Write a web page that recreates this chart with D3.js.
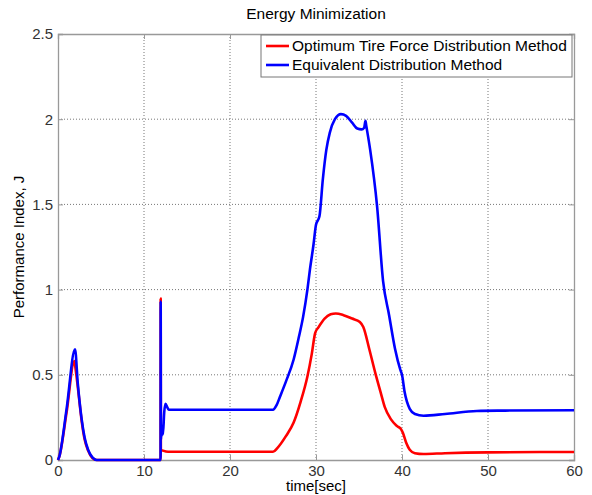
<!DOCTYPE html>
<html>
<head>
<meta charset="utf-8">
<script src="https://cdn.jsdelivr.net/npm/d3@7"></script>
<style>
  body { margin: 0; background: #fff; }
  svg { font-family: "Liberation Sans", Arial, sans-serif; }
  .tick text { fill: #333; font-size: 15px; }
  .grid line { stroke: #777; stroke-dasharray: 1,2; }
  .line { fill: none; stroke-width: 2.6; stroke-linejoin: round; }
</style>
</head>
<body>
<svg width="592" height="495"></svg>
<script>
// data
var redT = [0, 0.15, 1.0, 1.9, 2.0, 2.3, 2.75, 3.1, 3.5, 4.0, 4.5, 11.93, 11.94, 11.96, 12.2, 12.8, 25.0, 25.5, 26.5, 27.4, 28.2, 29.0, 29.5, 29.9, 30.3, 31.0, 31.7, 32.3, 33.2, 34.2, 35.1, 35.5, 36.2, 36.9, 37.5, 38.0, 38.7, 39.4, 39.9, 40.1, 40.5, 40.9, 41.5, 42.5, 45, 50, 60];
var redV = [0, 0.02, 0.28, 0.58, 0.55, 0.43, 0.23, 0.12, 0.055, 0.012, 0, 0, 0.947, 0.06, 0.055, 0.048, 0.048, 0.07, 0.14, 0.22, 0.34, 0.49, 0.62, 0.745, 0.78, 0.83, 0.855, 0.86, 0.85, 0.83, 0.81, 0.78, 0.65, 0.51, 0.4, 0.31, 0.24, 0.2, 0.18, 0.16, 0.1, 0.06, 0.04, 0.035, 0.04, 0.045, 0.047];

var blueT = [0, 0.15, 1.0, 1.98, 2.3, 2.75, 3.1, 3.5, 4.0, 4.5, 11.93, 11.94, 11.97, 12.1, 12.2, 12.35, 12.5, 12.7, 12.9, 25.0, 25.4, 25.8, 26.5, 27.4, 28.0, 28.5, 29.0, 29.3, 29.7, 30.0, 30.4, 30.8, 31.2, 31.6, 32.2, 32.9, 33.5, 34.2, 34.8, 35.3, 35.6, 35.75, 35.85, 36.3, 37.1, 37.8, 38.5, 39.2, 39.8, 40.0, 40.3, 40.9, 41.5, 42.5, 45, 48.7, 52, 60];
var blueV = [0, 0.02, 0.3, 0.65, 0.45, 0.24, 0.13, 0.06, 0.015, 0, 0, 0.93, 0.12, 0.2, 0.15, 0.28, 0.33, 0.31, 0.295, 0.295, 0.32, 0.37, 0.46, 0.59, 0.72, 0.84, 1.0, 1.12, 1.26, 1.38, 1.43, 1.65, 1.82, 1.92, 2.0, 2.03, 2.02, 1.98, 1.945, 1.94, 1.95, 1.99, 1.96, 1.82, 1.49, 1.05, 0.85, 0.65, 0.53, 0.5, 0.4, 0.3, 0.27, 0.26, 0.27, 0.288, 0.29, 0.292];

var xTicks = [0, 10, 20, 30, 40, 50, 60];
var yTicks = [0, 0.5, 1, 1.5, 2, 2.5];
var seriesNames = ["Optimum Tire Force Distribution Method", "Equivalent Distribution Method"];
var seriesColors = ["#ff0000", "#0000ff"];

var svg = d3.select("svg"),
  margin = {top: 34, right: 18, bottom: 35, left: 58},
  width = 592 - margin.left - margin.right,
  height = 495 - margin.top - margin.bottom,
  g = svg.append("g").attr("transform", "translate(" + margin.left + "," + margin.top + ")");

var x = d3.scaleLinear().domain([0, 60]).range([0, width]),
  y = d3.scaleLinear().domain([0, 2.5]).range([height, 0]);

// grid
g.append("g").attr("class", "grid")
  .selectAll("line").data(xTicks.slice(1, -1)).enter().append("line")
  .attr("x1", function(d) { return x(d); }).attr("x2", function(d) { return x(d); })
  .attr("y1", 0).attr("y2", height);
g.append("g").attr("class", "grid")
  .selectAll("line").data(yTicks.slice(1, -1)).enter().append("line")
  .attr("x1", 0).attr("x2", width)
  .attr("y1", function(d) { return y(d); }).attr("y2", function(d) { return y(d); });

// axes (ticks inside, like matlab)
g.append("g")
  .attr("transform", "translate(0," + height + ")")
  .call(d3.axisBottom(x).tickValues(xTicks).tickSize(-5).tickPadding(5).tickFormat(d3.format("d")));
g.append("g")
  .call(d3.axisLeft(y).tickValues(yTicks).tickSize(-5).tickPadding(5).tickFormat(function(d) { return d; }));
g.append("g")
  .call(d3.axisTop(x).tickValues(xTicks).tickSize(-5).tickFormat(""));
g.append("g")
  .attr("transform", "translate(" + width + ",0)")
  .call(d3.axisRight(y).tickValues(yTicks).tickSize(-5).tickFormat(""));
g.selectAll(".domain").attr("stroke", "#999").attr("stroke-width", 1.3);
g.selectAll(".tick line").attr("stroke", "#999");

var line = d3.line()
  .x(function(d) { return x(d[0]); })
  .y(function(d) { return y(d[1]); })
  .curve(d3.curveMonotoneX);

var series = [
  d3.zip(redT, redV),
  d3.zip(blueT, blueV)
];

g.selectAll(".line").data(series).enter().append("path")
  .attr("class", "line")
  .attr("d", line)
  .style("stroke", function(d, i) { return seriesColors[i]; });

// legend
var leg = g.append("g").attr("transform", "translate(" + (261 - margin.left) + "," + (35 - margin.top) + ")");
leg.append("rect").attr("width", 311).attr("height", 42)
  .attr("fill", "#fff").attr("stroke", "#777").attr("stroke-width", 1);
seriesNames.forEach(function(name, i) {
  var yy = 11 + i * 19;
  leg.append("line").attr("x1", 5).attr("x2", 28).attr("y1", yy).attr("y2", yy)
    .attr("stroke", seriesColors[i]).attr("stroke-width", 2.6);
  leg.append("text").attr("x", 31).attr("y", yy + 5)
    .attr("font-size", 15.5).attr("fill", "#000").text(name);
});

// titles
svg.append("text").attr("x", margin.left + width / 2).attr("y", 19)
  .attr("text-anchor", "middle").attr("font-size", 15.5).text("Energy Minimization");
svg.append("text").attr("x", margin.left + width / 2).attr("y", 491)
  .attr("text-anchor", "middle").attr("font-size", 15).text("time[sec]");
svg.append("text").attr("transform", "translate(24," + (margin.top + height / 2) + ") rotate(-90)")
  .attr("text-anchor", "middle").attr("font-size", 15).text("Performance Index, J");
</script>
</body>
</html>
